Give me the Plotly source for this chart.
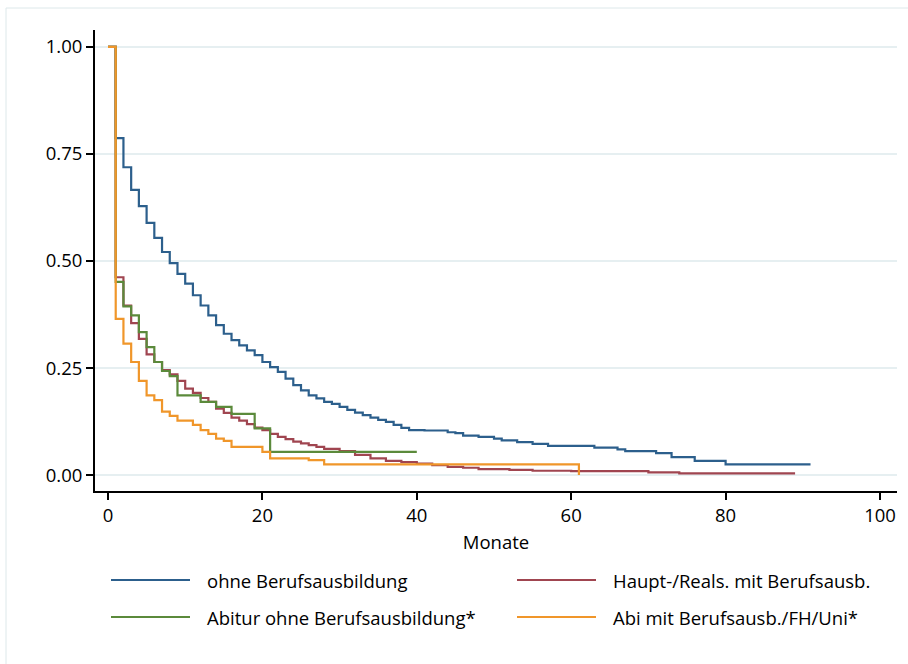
import plotly.graph_objects as go

# ---------------- data ----------------
series_names = [
    "ohne Berufsausbildung",
    "Haupt-/Reals. mit Berufsausb.",
    "Abitur ohne Berufsausbildung*",
    "Abi mit Berufsausb./FH/Uni*",
]

# step times (months) and survival values (value holds from that time on)
ohne_t = [0, 1, 2, 3, 4, 5, 6, 7, 8, 9, 10, 11, 12, 13, 14, 15, 16, 17, 18, 19, 20,
          21, 22, 23, 24, 25, 26, 27, 28, 29, 30, 31, 32, 33, 34, 35, 36, 37, 38, 39,
          41, 44, 45, 46, 48, 50, 51, 53, 55, 57, 63, 66, 67, 71, 73, 76, 80, 91]
ohne_s = [1.0, 0.787, 0.719, 0.666, 0.628, 0.589, 0.554, 0.521, 0.495, 0.470, 0.447,
          0.420, 0.396, 0.373, 0.350, 0.330, 0.315, 0.303, 0.291, 0.280, 0.264,
          0.252, 0.241, 0.225, 0.210, 0.198, 0.186, 0.179, 0.171, 0.166, 0.159,
          0.152, 0.146, 0.140, 0.134, 0.129, 0.124, 0.117, 0.110, 0.105,
          0.104, 0.100, 0.098, 0.092, 0.089, 0.085, 0.081, 0.077, 0.073, 0.068,
          0.064, 0.060, 0.056, 0.051, 0.042, 0.033, 0.025, 0.025]

haupt_t = [0, 1, 2, 3, 4, 5, 6, 7, 8, 9, 10, 11, 12, 13, 14, 15, 16, 17, 18, 19, 20,
           21, 22, 23, 24, 25, 26, 27, 28, 30, 32, 34, 36, 38, 40, 42, 44, 46, 48,
           52, 55, 60, 70, 74, 89]
haupt_s = [1.0, 0.462, 0.396, 0.355, 0.318, 0.282, 0.264, 0.245, 0.235, 0.220, 0.202,
           0.192, 0.180, 0.171, 0.155, 0.145, 0.134, 0.127, 0.119, 0.111, 0.105,
           0.096, 0.089, 0.084, 0.078, 0.074, 0.070, 0.066, 0.061, 0.056, 0.047,
           0.039, 0.033, 0.030, 0.027, 0.023, 0.019, 0.017, 0.014, 0.012, 0.010,
           0.009, 0.006, 0.004, 0.004]

abitur_t = [0, 1, 2, 3, 4, 5, 6, 7, 8, 9, 12, 14, 16, 19, 21, 40]
abitur_s = [1.0, 0.451, 0.394, 0.373, 0.334, 0.299, 0.264, 0.243, 0.231, 0.186,
            0.171, 0.159, 0.143, 0.109, 0.054, 0.054]

abi_t = [0, 1, 2, 3, 4, 5, 6, 7, 8, 9, 11, 12, 13, 14, 15, 16, 20, 21, 26, 28, 61, 61]
abi_s = [1.0, 0.365, 0.307, 0.264, 0.220, 0.186, 0.175, 0.148, 0.138, 0.127, 0.117,
         0.105, 0.096, 0.085, 0.080, 0.066, 0.054, 0.039, 0.035, 0.025, 0.025, 0.0]

x_ticks = [0, 20, 40, 60, 80, 100]
y_ticks = [0.0, 0.25, 0.5, 0.75, 1.0]
x_title = "Monate"

colors = ["#2c5f8c", "#a04550", "#5b8a3b", "#f0962a"]

# ---------------- layout geometry (pixels) ----------------
W, H = 908, 664
L, R, T, B = 95, 11, 30, 173
PW = W - L - R
PH = H - T - B
FONT = "Open Sans"
FS = 18.5


def px_to_paper(px, py):
    return (px - L) / PW, (H - B - py) / PH


fig = go.Figure()
all_t = [ohne_t, haupt_t, abitur_t, abi_t]
all_s = [ohne_s, haupt_s, abitur_s, abi_s]
for name, t, s, c in zip(series_names, all_t, all_s, colors):
    fig.add_trace(go.Scatter(
        x=t, y=s, mode="lines", name=name,
        line=dict(color=c, width=2.2, shape="hv"),
        showlegend=False,
    ))

# ---------------- manual legend (Stata-style, long line samples) ----------------
legend_rows = [580, 617]
legend_cols = [(111, 190, 205), (517, 596, 611)]
shapes = []
annotations = []
for i, (name, c) in enumerate(zip(series_names, colors)):
    row, col = divmod(i, 2)
    x0, x1, xt = legend_cols[col]
    y = legend_rows[row]
    a0, b0 = px_to_paper(x0, y)
    a1, _ = px_to_paper(x1, y)
    shapes.append(dict(type="line", xref="paper", yref="paper", x0=a0, x1=a1,
                       y0=b0, y1=b0, line=dict(color=c, width=2.2)))
    at, bt = px_to_paper(xt, y)
    annotations.append(dict(text=name, xref="paper", yref="paper", x=at, y=bt,
                            xanchor="left", yanchor="middle", showarrow=False,
                            font=dict(family=FONT, size=FS, color="black")))

# outer light frame
fx0, fy1 = px_to_paper(6, 8)
fx1, fy0 = px_to_paper(W + 20, H + 20)
shapes.append(dict(type="rect", xref="paper", yref="paper", x0=fx0, x1=fx1,
                   y0=fy0, y1=fy1, line=dict(color="#dde8ea", width=1),
                   fillcolor="rgba(0,0,0,0)", layer="below"))

x_lo = (L - 108) / 7.72
x_hi = (W - R - 108) / 7.72
y_lo = -(491 - 475) / 429
y_hi = 1 + (47 - 30) / 429

fig.update_layout(
    width=W, height=H,
    margin=dict(l=L, r=R, t=T, b=B),
    paper_bgcolor="white", plot_bgcolor="white",
    font=dict(family=FONT, size=FS, color="black"),
    shapes=shapes, annotations=annotations,
    xaxis=dict(
        range=[x_lo, x_hi], tickvals=x_ticks, ticktext=[str(v) for v in x_ticks],
        showgrid=False, zeroline=False,
        showline=True, linecolor="black", linewidth=2,
        ticks="outside", ticklen=7, tickwidth=2, tickcolor="black",
        title=dict(text=x_title, standoff=10, font=dict(family=FONT, size=FS)),
    ),
    yaxis=dict(
        range=[y_lo, y_hi], tickvals=y_ticks, tickformat=".2f",
        showgrid=True, gridcolor="#e6eff1", gridwidth=1.5, zeroline=False,
        showline=True, linecolor="black", linewidth=2,
        ticks="outside", ticklen=7, tickwidth=2, tickcolor="black",
    ),
)

fig.write_html("out.html", config={"displayModeBar": False},
               post_script="document.body.style.margin='0';")
